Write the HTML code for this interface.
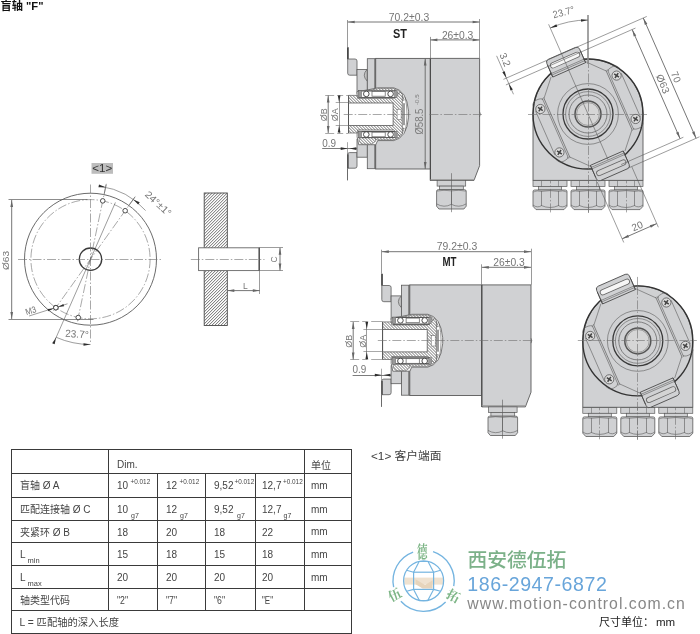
<!DOCTYPE html>
<html lang="zh"><head><meta charset="utf-8"><title>盲轴 F</title>
<style>
html,body{margin:0;padding:0;background:#fff;}
body{width:700px;height:634px;overflow:hidden;font-family:"Liberation Sans","Noto Sans CJK SC",sans-serif;}
svg{display:block;will-change:transform;}
</style></head><body>
<svg width="700" height="634" viewBox="0 0 700 634">
<defs>
<pattern id="hatch" width="2.12" height="2.12" patternUnits="userSpaceOnUse" patternTransform="rotate(-45)"><rect width="2.12" height="2.12" fill="#fff"/><line x1="0" y1="0" x2="2.12" y2="0" stroke="#4a4a4a" stroke-width="1.15"/></pattern>
<pattern id="hatch2" width="2.12" height="2.12" patternUnits="userSpaceOnUse" patternTransform="rotate(45)"><rect width="2.12" height="2.12" fill="#fff"/><line x1="0" y1="0" x2="2.12" y2="0" stroke="#4a4a4a" stroke-width="1.1"/></pattern>
</defs>
<rect x="91.5" y="163" width="21.5" height="10.8" fill="#bdbdbd"/>
<text x="102.30" y="172.40" font-size="11.5" fill="#333" text-anchor="middle" font-weight="normal" font-family='"Liberation Sans", "Noto Sans CJK SC", sans-serif' textLength="20" lengthAdjust="spacingAndGlyphs" >&lt;1&gt;</text>
<circle cx="90.50" cy="259.20" r="66.00" fill="none" stroke="#5a5a5a" stroke-width="0.9" />
<circle cx="90.50" cy="259.20" r="59.60" fill="none" stroke="#6e6e6e" stroke-width="0.6" stroke-dasharray="9 2 1.5 2"/>
<circle cx="90.50" cy="259.20" r="11.20" fill="none" stroke="#3a3a3a" stroke-width="1.3" />
<line x1="18.00" y1="259.50" x2="162.50" y2="259.50" stroke="#6e6e6e" stroke-width="0.6" stroke-dasharray="9 2 1.5 2"/>
<line x1="90.50" y1="184.50" x2="90.50" y2="344.00" stroke="#6e6e6e" stroke-width="0.6" stroke-dasharray="9 2 1.5 2"/>
<line x1="106.11" y1="184.82" x2="77.36" y2="321.84" stroke="#6e6e6e" stroke-width="0.6" stroke-dasharray="9 2 1.5 2"/>
<line x1="134.69" y1="197.37" x2="53.29" y2="311.27" stroke="#6e6e6e" stroke-width="0.6" stroke-dasharray="9 2 1.5 2"/>
<line x1="115.42" y1="202.43" x2="55.53" y2="338.86" stroke="#5a5a5a" stroke-width="0.6" />
<circle cx="102.74" cy="200.87" r="2.30" fill="#fff" stroke="#3a3a3a" stroke-width="0.9" />
<circle cx="125.15" cy="210.71" r="2.30" fill="#fff" stroke="#3a3a3a" stroke-width="0.9" />
<circle cx="78.26" cy="317.53" r="2.30" fill="#fff" stroke="#3a3a3a" stroke-width="0.9" />
<circle cx="55.85" cy="307.69" r="2.30" fill="#fff" stroke="#3a3a3a" stroke-width="0.9" />
<path d="M100.54,186.39 A73.5,73.5 0 0 1 145.59,210.55" fill="none" stroke="#5a5a5a" stroke-width="0.6" />
<polygon points="105.59,187.27 98.47,187.15 99.02,184.51" fill="#2e2e2e"/>
<polygon points="133.23,199.40 139.71,202.37 138.14,204.57" fill="#2e2e2e"/>
<line x1="104.05" y1="194.61" x2="106.31" y2="183.84" stroke="#5a5a5a" stroke-width="0.6" />
<line x1="128.87" y1="205.50" x2="135.27" y2="196.55" stroke="#5a5a5a" stroke-width="0.6" />
<text x="144.20" y="195.20" font-size="10" fill="#767676" text-anchor="start" font-weight="normal" font-family='"Liberation Sans", "Noto Sans CJK SC", sans-serif' transform="rotate(43 144.20 195.20)" textLength="32" lengthAdjust="spacingAndGlyphs" >24°±1°</text>
<path d="M90.50,344.50 A85.3,85.3 0 0 1 56.21,337.31" fill="none" stroke="#5a5a5a" stroke-width="0.6" />
<polygon points="90.50,344.50 83.50,345.85 83.50,343.15" fill="#2e2e2e"/>
<polygon points="56.21,337.31 54.64,344.26 52.16,343.17" fill="#2e2e2e"/>
<text x="65.00" y="336.80" font-size="10.5" fill="#767676" text-anchor="start" font-weight="normal" font-family='"Liberation Sans", "Noto Sans CJK SC", sans-serif' transform="rotate(4 65.00 336.80)" textLength="23.5" lengthAdjust="spacingAndGlyphs" >23.7°</text>
<line x1="8.50" y1="199.50" x2="87.50" y2="199.50" stroke="#5a5a5a" stroke-width="0.7" />
<line x1="8.50" y1="319.50" x2="93.50" y2="319.50" stroke="#5a5a5a" stroke-width="0.7" />
<line x1="11.70" y1="199.90" x2="11.70" y2="319.10" stroke="#666" stroke-width="0.9"/>
<polygon points="11.70,199.90 13.05,206.90 10.35,206.90" fill="#666"/>
<polygon points="11.70,319.10 10.35,312.10 13.05,312.10" fill="#666"/>
<text x="9.00" y="270.00" font-size="9.5" fill="#767676" text-anchor="start" font-weight="normal" font-family='"Liberation Sans", "Noto Sans CJK SC", sans-serif' transform="rotate(-90 9.00 270.00)" textLength="19" lengthAdjust="spacingAndGlyphs" >Ø63</text>
<text x="26.50" y="315.30" font-size="9" fill="#767676" text-anchor="start" font-weight="normal" font-family='"Liberation Sans", "Noto Sans CJK SC", sans-serif' transform="rotate(-17.6 26.50 315.30)" textLength="11" lengthAdjust="spacingAndGlyphs" >M3</text>
<line x1="29.10" y1="316.00" x2="67.50" y2="303.80" stroke="#5a5a5a" stroke-width="0.6" />
<polygon points="53.65,308.39 48.29,311.35 47.57,309.06" fill="#2e2e2e"/>
<polygon points="58.05,306.99 63.40,304.03 64.13,306.32" fill="#2e2e2e"/>
<circle cx="55.85" cy="307.69" r="2.30" fill="#fff" stroke="#3a3a3a" stroke-width="0.9" />
<rect x="204.20" y="193.00" width="23.10" height="132.50" fill="url(#hatch)" stroke="#4a4a4a" stroke-width="0.9" />
<rect x="198.60" y="247.80" width="60.60" height="22.80" fill="#fff" stroke="#666" stroke-width="0.9" />
<line x1="259.20" y1="247.80" x2="259.20" y2="270.60" stroke="#444" stroke-width="1.2" />
<line x1="190.80" y1="259.50" x2="264.50" y2="259.50" stroke="#6e6e6e" stroke-width="0.6" stroke-dasharray="9 2 1.5 2"/>
<line x1="259.20" y1="247.50" x2="283.00" y2="247.50" stroke="#5a5a5a" stroke-width="0.6" />
<line x1="259.20" y1="270.50" x2="283.00" y2="270.50" stroke="#5a5a5a" stroke-width="0.6" />
<line x1="280.00" y1="247.80" x2="280.00" y2="270.60" stroke="#666" stroke-width="0.9"/>
<polygon points="280.00,247.80 281.35,254.80 278.65,254.80" fill="#666"/>
<polygon points="280.00,270.60 278.65,263.60 281.35,263.60" fill="#666"/>
<text x="276.50" y="262.50" font-size="8.5" fill="#767676" text-anchor="start" font-weight="normal" font-family='"Liberation Sans", "Noto Sans CJK SC", sans-serif' transform="rotate(-90 276.50 262.50)" >C</text>
<line x1="259.50" y1="270.60" x2="259.50" y2="294.00" stroke="#5a5a5a" stroke-width="0.6" />
<line x1="227.30" y1="290.60" x2="259.80" y2="290.60" stroke="#666" stroke-width="0.9"/>
<polygon points="227.30,290.60 234.30,289.25 234.30,291.95" fill="#666"/>
<polygon points="259.80,290.60 252.80,291.95 252.80,289.25" fill="#666"/>
<text x="243.00" y="288.50" font-size="8.5" fill="#767676" text-anchor="start" font-weight="normal" font-family='"Liberation Sans", "Noto Sans CJK SC", sans-serif' >L</text>
<line x1="347.50" y1="20.00" x2="347.50" y2="47.20" stroke="#6e6e6e" stroke-width="0.7" />
<line x1="347.50" y1="168.20" x2="347.50" y2="180.40" stroke="#5a5a5a" stroke-width="0.9" />
<line x1="347.90" y1="47.20" x2="347.90" y2="59.20" stroke="#333" stroke-width="1.6" />
<path d="M347.7,59.0 L355.0,59.0 Q357.0,59.0 357.0,61.0 L357.0,75.2 L349.7,75.2 Q347.7,75.2 347.7,73.2 Z" fill="#d0d1d3" stroke="#5a5a5a" stroke-width="0.8" />
<path d="M347.7,154.2 Q347.7,152.6 349.7,152.6 L357.0,152.6 L357.0,166.2 Q357.0,168.2 355.0,168.2 L347.7,168.2 Z" fill="#d0d1d3" stroke="#5a5a5a" stroke-width="0.8" />
<line x1="347.90" y1="154.20" x2="347.90" y2="168.20" stroke="#444" stroke-width="1.4" />
<rect x="357.00" y="69.40" width="10.30" height="24.00" fill="#d0d1d3" stroke="#5a5a5a" stroke-width="0.8" />
<rect x="357.00" y="139.20" width="10.30" height="18.00" fill="#d0d1d3" stroke="#5a5a5a" stroke-width="0.8" />
<path d="M367.3,69.2 Q361.2,75.2 367.3,81.2 Z" fill="#c4c4c4" stroke="#5a5a5a" stroke-width="0.7" />
<rect x="367.30" y="58.70" width="8.40" height="110.00" fill="#d0d1d3" stroke="#5a5a5a" stroke-width="0.8" />
<line x1="374.50" y1="58.70" x2="374.50" y2="168.70" stroke="#5a5a5a" stroke-width="0.6" />
<rect x="375.70" y="58.40" width="54.70" height="110.60" fill="#d0d1d3" stroke="#5a5a5a" stroke-width="0.9" />
<path d="M430.4,58.400000000000006 L479.6,58.400000000000006 L479.6,165.7 L474.0,180.4 L430.4,180.4 Z" fill="#d0d1d3" stroke="#5a5a5a" stroke-width="0.9" />
<line x1="430.40" y1="58.40" x2="430.40" y2="180.40" stroke="#4a4a4a" stroke-width="1.1" />
<line x1="430.40" y1="179.50" x2="474.60" y2="179.50" stroke="#9a9a9a" stroke-width="0.8" />
<path d="M479.6,111.7 Q481.2,114.2 479.6,116.7" fill="#888" stroke="#5a5a5a" stroke-width="0.6" />
<rect x="437.10" y="180.40" width="28.60" height="5.70" fill="#d0d1d3" stroke="#5a5a5a" stroke-width="0.7" />
<rect x="439.50" y="186.10" width="23.80" height="3.60" fill="#d0d1d3" stroke="#5a5a5a" stroke-width="0.7" />
<path d="M438.2,189.70000000000002 L464.59999999999997,189.70000000000002 Q466.2,189.70000000000002 466.2,191.3 L466.2,206.20000000000002 L463.9,209.00000000000003 L438.9,209.00000000000003 L436.59999999999997,206.20000000000002 L436.59999999999997,191.3 Q436.59999999999997,189.70000000000002 438.2,189.70000000000002 Z" fill="#d0d1d3" stroke="#5a5a5a" stroke-width="0.8" />
<path d="M436.59999999999997,203.9 Q444.0,208.3 451.4,204.3 Q458.79999999999995,208.3 466.2,203.9" fill="none" stroke="#5a5a5a" stroke-width="0.6" />
<path d="M436.59999999999997,191.20000000000002 Q444.0,189.50000000000003 451.4,190.9 Q458.79999999999995,189.50000000000003 466.2,191.20000000000002" fill="none" stroke="#5a5a5a" stroke-width="0.5" />
<line x1="451.50" y1="190.70" x2="451.50" y2="204.70" stroke="#5a5a5a" stroke-width="0.6" />
<line x1="451.50" y1="173.20" x2="451.50" y2="212.20" stroke="#5a5a5a" stroke-width="0.6" />
<path d="M357.09999999999997,91.6 L367.7,89.9 L377.7,87.80000000000001 L393.7,87.80000000000001 Q406.7,90.2 408.59999999999997,111.2 L408.59999999999997,117.2 Q406.7,138.2 393.7,140.6 L377.7,140.6 L375.7,144.7 L358.7,144.7 L357.09999999999997,136.8 Z" fill="#fff" stroke="#5a5a5a" stroke-width="0.8" />
<path d="M367.7,90.6 L377.7,88.6 L393.7,88.6 Q401.7,90.2 404.2,100.2 L401.2,100.2 Q399.7,93.2 394.7,91.6 L367.7,91.6 Z" fill="url(#hatch2)" stroke="#5a5a5a" stroke-width="0.6" />
<path d="M367.7,137.8 L377.7,139.8 L393.7,139.8 Q401.7,138.2 404.2,128.2 L401.2,128.2 Q399.7,135.2 394.7,136.8 L367.7,136.8 Z" fill="url(#hatch2)" stroke="#5a5a5a" stroke-width="0.6" />
<path d="M359.2,137.7 L375.7,137.7 L375.7,141.2 L371.7,144.2 L361.7,144.2 L359.2,141.2 Z" fill="url(#hatch2)" stroke="#5a5a5a" stroke-width="0.6" />
<path d="M405.2,97.2 Q407.0,106.2 407.0,114.2 Q407.0,122.2 405.2,131.2" fill="none" stroke="#5a5a5a" stroke-width="0.6" />
<path d="M348.59999999999997,95.4 L357.7,95.4 L357.7,98.4 L393.7,98.4 L400.2,92.2 L402.3,94.2 L402.3,134.2 L400.2,136.2 L393.7,130.0 L357.7,130.0 L357.7,133.0 L348.59999999999997,133.0 Z" fill="url(#hatch2)" stroke="#5a5a5a" stroke-width="0.7" />
<rect x="348.60" y="103.00" width="44.50" height="22.40" fill="#fff" stroke="#5a5a5a" stroke-width="0.8" />
<line x1="348.50" y1="95.40" x2="348.50" y2="133.00" stroke="#555" stroke-width="0.9" />
<line x1="403.50" y1="103.20" x2="403.50" y2="125.20" stroke="#5a5a5a" stroke-width="0.6" />
<line x1="404.50" y1="103.20" x2="404.50" y2="125.20" stroke="#5a5a5a" stroke-width="0.6" />
<rect x="397.10" y="109.20" width="4.00" height="10.30" fill="#fff" stroke="#5a5a5a" stroke-width="0.5" />
<rect x="358.70" y="90.60" width="37.00" height="6.60" fill="#fff" stroke="#5a5a5a" stroke-width="0.5" />
<line x1="358.70" y1="91.00" x2="395.70" y2="91.00" stroke="#555" stroke-width="1.1" />
<line x1="358.70" y1="97.50" x2="395.70" y2="97.50" stroke="#555" stroke-width="0.9" />
<rect x="358.70" y="90.60" width="3.00" height="6.60" fill="#999" stroke="#5a5a5a" stroke-width="0.4" />
<rect x="394.50" y="90.60" width="2.60" height="6.60" fill="#999" stroke="#5a5a5a" stroke-width="0.4" />
<rect x="372.00" y="91.60" width="13.20" height="4.60" fill="#fff" stroke="#5a5a5a" stroke-width="0.7" />
<circle cx="366.30" cy="93.90" r="2.80" fill="#fff" stroke="#3a3a3a" stroke-width="0.9" />
<circle cx="390.60" cy="93.90" r="2.80" fill="#fff" stroke="#3a3a3a" stroke-width="0.9" />
<rect x="358.70" y="131.20" width="37.00" height="6.60" fill="#fff" stroke="#5a5a5a" stroke-width="0.5" />
<line x1="358.70" y1="131.60" x2="395.70" y2="131.60" stroke="#555" stroke-width="1.1" />
<line x1="358.70" y1="137.50" x2="395.70" y2="137.50" stroke="#555" stroke-width="0.9" />
<rect x="358.70" y="131.20" width="3.00" height="6.60" fill="#999" stroke="#5a5a5a" stroke-width="0.4" />
<rect x="394.50" y="131.20" width="2.60" height="6.60" fill="#999" stroke="#5a5a5a" stroke-width="0.4" />
<rect x="372.00" y="132.20" width="13.20" height="4.60" fill="#fff" stroke="#5a5a5a" stroke-width="0.7" />
<circle cx="366.30" cy="134.50" r="2.80" fill="#fff" stroke="#3a3a3a" stroke-width="0.9" />
<circle cx="390.60" cy="134.50" r="2.80" fill="#fff" stroke="#3a3a3a" stroke-width="0.9" />
<line x1="343.70" y1="114.50" x2="411.70" y2="114.50" stroke="#6e6e6e" stroke-width="0.6" stroke-dasharray="9 2 1.5 2"/>
<line x1="429.40" y1="114.50" x2="482.10" y2="114.50" stroke="#6e6e6e" stroke-width="0.6" stroke-dasharray="9 2 1.5 2"/>
<line x1="479.50" y1="19.00" x2="479.50" y2="58.40" stroke="#6e6e6e" stroke-width="0.7" />
<line x1="347.70" y1="22.00" x2="479.60" y2="22.00" stroke="#666" stroke-width="0.9"/>
<polygon points="347.70,22.00 354.70,20.65 354.70,23.35" fill="#666"/>
<polygon points="479.60,22.00 472.60,23.35 472.60,20.65" fill="#666"/>
<text x="409.00" y="20.70" font-size="10" fill="#767676" text-anchor="middle" font-weight="normal" font-family='"Liberation Sans", "Noto Sans CJK SC", sans-serif' textLength="40.4" lengthAdjust="spacingAndGlyphs" >70.2±0.3</text>
<text x="400.00" y="37.90" font-size="13" fill="#222" text-anchor="middle" font-weight="bold" font-family='"Liberation Sans", "Noto Sans CJK SC", sans-serif' textLength="14" lengthAdjust="spacingAndGlyphs" >ST</text>
<line x1="430.50" y1="36.90" x2="430.50" y2="58.40" stroke="#6e6e6e" stroke-width="0.7" />
<line x1="430.40" y1="39.90" x2="479.60" y2="39.90" stroke="#666" stroke-width="0.9"/>
<polygon points="430.40,39.90 437.40,38.55 437.40,41.25" fill="#666"/>
<polygon points="479.60,39.90 472.60,41.25 472.60,38.55" fill="#666"/>
<text x="457.60" y="38.60" font-size="10" fill="#767676" text-anchor="middle" font-weight="normal" font-family='"Liberation Sans", "Noto Sans CJK SC", sans-serif' textLength="31.4" lengthAdjust="spacingAndGlyphs" >26±0.3</text>
<line x1="425.20" y1="58.40" x2="425.20" y2="169.00" stroke="#666" stroke-width="0.9"/>
<polygon points="425.20,58.40 426.55,65.40 423.85,65.40" fill="#666"/>
<polygon points="425.20,169.00 423.85,162.00 426.55,162.00" fill="#666"/>
<text x="423.00" y="134.60" font-size="10" fill="#7c7c7c" text-anchor="start" font-weight="normal" font-family='"Liberation Sans", "Noto Sans CJK SC", sans-serif' transform="rotate(-90 423.00 134.60)" textLength="26.0" lengthAdjust="spacingAndGlyphs" >Ø58.5</text>
<text x="418.90" y="105.00" font-size="6.2" fill="#7c7c7c" text-anchor="start" font-weight="normal" font-family='"Liberation Sans", "Noto Sans CJK SC", sans-serif' transform="rotate(-90 418.90 105.00)" >-0.5</text>
<line x1="325.20" y1="95.50" x2="348.60" y2="95.50" stroke="#6e6e6e" stroke-width="0.6" stroke-dasharray="9 3 6 3 20"/>
<line x1="325.20" y1="133.50" x2="348.60" y2="133.50" stroke="#6e6e6e" stroke-width="0.6" stroke-dasharray="9 3 6 3 20"/>
<line x1="328.20" y1="95.40" x2="328.20" y2="133.00" stroke="#666" stroke-width="0.9"/>
<polygon points="328.20,95.40 329.55,102.40 326.85,102.40" fill="#666"/>
<polygon points="328.20,133.00 326.85,126.00 329.55,126.00" fill="#666"/>
<text x="326.80" y="121.20" font-size="9.6" fill="#767676" text-anchor="start" font-weight="normal" font-family='"Liberation Sans", "Noto Sans CJK SC", sans-serif' transform="rotate(-90 326.80 121.20)" textLength="13" lengthAdjust="spacingAndGlyphs" >ØB</text>
<line x1="335.70" y1="102.50" x2="348.60" y2="102.50" stroke="#6e6e6e" stroke-width="0.6" />
<line x1="335.70" y1="125.50" x2="348.60" y2="125.50" stroke="#6e6e6e" stroke-width="0.6" />
<line x1="339.50" y1="95.20" x2="339.50" y2="133.20" stroke="#5a5a5a" stroke-width="0.6" />
<polygon points="339.10,102.60 337.75,95.60 340.45,95.60" fill="#2e2e2e"/>
<polygon points="339.10,125.40 340.45,132.40 337.75,132.40" fill="#2e2e2e"/>
<text x="338.10" y="121.20" font-size="9.6" fill="#767676" text-anchor="start" font-weight="normal" font-family='"Liberation Sans", "Noto Sans CJK SC", sans-serif' transform="rotate(-90 338.10 121.20)" textLength="13" lengthAdjust="spacingAndGlyphs" >ØA</text>
<line x1="322.20" y1="148.50" x2="356.70" y2="148.50" stroke="#5a5a5a" stroke-width="0.8" />
<polygon points="347.70,148.60 340.70,149.95 340.70,147.25" fill="#2e2e2e"/>
<polygon points="349.40,148.60 356.40,147.25 356.40,149.95" fill="#2e2e2e"/>
<line x1="347.50" y1="142.20" x2="347.50" y2="154.20" stroke="#6e6e6e" stroke-width="0.6" />
<text x="322.20" y="146.70" font-size="10" fill="#767676" text-anchor="start" font-weight="normal" font-family='"Liberation Sans", "Noto Sans CJK SC", sans-serif' textLength="13.8" lengthAdjust="spacingAndGlyphs" >0.9</text>
<rect x="533.00" y="180.40" width="34.00" height="6.00" fill="#d0d1d3" stroke="#5a5a5a" stroke-width="0.7" />
<rect x="538.50" y="186.40" width="23.00" height="3.60" fill="#d0d1d3" stroke="#5a5a5a" stroke-width="0.7" />
<path d="M534.5,190.0 L565.5,190.0 Q567,190.0 567,191.6 L567,206.3 L564,209.6 L536,209.6 L533,206.3 L533,191.6 Q533,190.0 534.5,190.0 Z" fill="#d0d1d3" stroke="#5a5a5a" stroke-width="0.8" />
<line x1="541.50" y1="191.00" x2="541.50" y2="206.00" stroke="#5a5a5a" stroke-width="0.6" />
<line x1="558.50" y1="191.00" x2="558.50" y2="206.00" stroke="#5a5a5a" stroke-width="0.6" />
<path d="M533,205.0 Q537.3,208.4 541.5,205.6 Q550,209.4 558.5,205.6 Q562.7,208.4 567,205.0" fill="none" stroke="#5a5a5a" stroke-width="0.6" />
<path d="M533,192.0 Q537.3,190.2 541.5,191.5 Q550,189.8 558.5,191.5 Q562.7,190.2 567,192.0" fill="none" stroke="#5a5a5a" stroke-width="0.5" />
<line x1="541.50" y1="180.40" x2="541.50" y2="186.40" stroke="#5a5a5a" stroke-width="0.5" />
<line x1="558.50" y1="180.40" x2="558.50" y2="186.40" stroke="#5a5a5a" stroke-width="0.5" />
<line x1="550.50" y1="174.40" x2="550.50" y2="213.40" stroke="#6e6e6e" stroke-width="0.6" stroke-dasharray="9 2 1.5 2"/>
<rect x="571.00" y="180.40" width="34.00" height="6.00" fill="#d0d1d3" stroke="#5a5a5a" stroke-width="0.7" />
<rect x="576.50" y="186.40" width="23.00" height="3.60" fill="#d0d1d3" stroke="#5a5a5a" stroke-width="0.7" />
<path d="M572.5,190.0 L603.5,190.0 Q605,190.0 605,191.6 L605,206.3 L602,209.6 L574,209.6 L571,206.3 L571,191.6 Q571,190.0 572.5,190.0 Z" fill="#d0d1d3" stroke="#5a5a5a" stroke-width="0.8" />
<line x1="579.50" y1="191.00" x2="579.50" y2="206.00" stroke="#5a5a5a" stroke-width="0.6" />
<line x1="596.50" y1="191.00" x2="596.50" y2="206.00" stroke="#5a5a5a" stroke-width="0.6" />
<path d="M571,205.0 Q575.3,208.4 579.5,205.6 Q588,209.4 596.5,205.6 Q600.7,208.4 605,205.0" fill="none" stroke="#5a5a5a" stroke-width="0.6" />
<path d="M571,192.0 Q575.3,190.2 579.5,191.5 Q588,189.8 596.5,191.5 Q600.7,190.2 605,192.0" fill="none" stroke="#5a5a5a" stroke-width="0.5" />
<line x1="579.50" y1="180.40" x2="579.50" y2="186.40" stroke="#5a5a5a" stroke-width="0.5" />
<line x1="596.50" y1="180.40" x2="596.50" y2="186.40" stroke="#5a5a5a" stroke-width="0.5" />
<line x1="588.50" y1="174.40" x2="588.50" y2="213.40" stroke="#6e6e6e" stroke-width="0.6" stroke-dasharray="9 2 1.5 2"/>
<rect x="609.00" y="180.40" width="34.00" height="6.00" fill="#d0d1d3" stroke="#5a5a5a" stroke-width="0.7" />
<rect x="614.50" y="186.40" width="23.00" height="3.60" fill="#d0d1d3" stroke="#5a5a5a" stroke-width="0.7" />
<path d="M610.5,190.0 L641.5,190.0 Q643,190.0 643,191.6 L643,206.3 L640,209.6 L612,209.6 L609,206.3 L609,191.6 Q609,190.0 610.5,190.0 Z" fill="#d0d1d3" stroke="#5a5a5a" stroke-width="0.8" />
<line x1="617.50" y1="191.00" x2="617.50" y2="206.00" stroke="#5a5a5a" stroke-width="0.6" />
<line x1="634.50" y1="191.00" x2="634.50" y2="206.00" stroke="#5a5a5a" stroke-width="0.6" />
<path d="M609,205.0 Q613.3,208.4 617.5,205.6 Q626,209.4 634.5,205.6 Q638.7,208.4 643,205.0" fill="none" stroke="#5a5a5a" stroke-width="0.6" />
<path d="M609,192.0 Q613.3,190.2 617.5,191.5 Q626,189.8 634.5,191.5 Q638.7,190.2 643,192.0" fill="none" stroke="#5a5a5a" stroke-width="0.5" />
<line x1="617.50" y1="180.40" x2="617.50" y2="186.40" stroke="#5a5a5a" stroke-width="0.5" />
<line x1="634.50" y1="180.40" x2="634.50" y2="186.40" stroke="#5a5a5a" stroke-width="0.5" />
<line x1="626.50" y1="174.40" x2="626.50" y2="213.40" stroke="#6e6e6e" stroke-width="0.6" stroke-dasharray="9 2 1.5 2"/>
<path d="M533,114 A55,55 0 0 1 643,114 L643,180.4 L533,180.4 Z" fill="#d0d1d3" stroke="#5a5a5a" stroke-width="0.9" />
<path d="M552.77,77.04 L546.83,63.49 Q545.54,60.56 548.47,59.27 L575.39,47.46 Q578.32,46.17 579.61,49.10 L585.55,62.65 Z" fill="#d0d1d3" stroke="#4a4a4a" stroke-width="0.9" />
<path d="M590.45,165.35 L596.39,178.90 Q597.68,181.83 600.61,180.54 L627.53,168.73 Q630.46,167.44 629.17,164.51 L623.23,150.96 Z" fill="#d0d1d3" stroke="#4a4a4a" stroke-width="0.9" />
<circle cx="588.00" cy="114.00" r="55.00" fill="none" stroke="#333" stroke-width="1.4" />
<polygon points="552.83,75.93 548.41,65.85 580.27,51.87 584.69,61.94" fill="#d0d1d3"/>
<line x1="552.77" y1="77.04" x2="547.55" y2="65.14" stroke="#4a4a4a" stroke-width="0.9" />
<line x1="585.55" y1="62.65" x2="580.33" y2="50.75" stroke="#4a4a4a" stroke-width="0.9" />
<line x1="551.89" y1="75.03" x2="584.67" y2="60.64" stroke="#5a5a5a" stroke-width="0.6" />
<line x1="551.25" y1="73.56" x2="584.03" y2="59.17" stroke="#5a5a5a" stroke-width="0.6" />
<line x1="553.00" y1="65.37" x2="577.17" y2="54.76" stroke="#666" stroke-width="6.0" stroke-linecap="round"/>
<line x1="553.00" y1="65.37" x2="577.17" y2="54.76" stroke="#f6f6f6" stroke-width="4.4" stroke-linecap="round"/>
<polygon points="591.31,166.06 595.73,176.13 627.59,162.15 623.17,152.07" fill="#d0d1d3"/>
<line x1="590.45" y1="165.35" x2="595.67" y2="177.25" stroke="#4a4a4a" stroke-width="0.9" />
<line x1="623.23" y1="150.96" x2="628.45" y2="162.86" stroke="#4a4a4a" stroke-width="0.9" />
<line x1="591.33" y1="167.36" x2="624.11" y2="152.97" stroke="#5a5a5a" stroke-width="0.6" />
<line x1="591.97" y1="168.83" x2="624.75" y2="154.44" stroke="#5a5a5a" stroke-width="0.6" />
<line x1="599.19" y1="173.08" x2="623.37" y2="162.47" stroke="#666" stroke-width="6.0" stroke-linecap="round"/>
<line x1="599.19" y1="173.08" x2="623.37" y2="162.47" stroke="#d4d4d4" stroke-width="4.4" stroke-linecap="round"/>
<line x1="585.69" y1="61.72" x2="606.27" y2="71.03" stroke="#5a5a5a" stroke-width="0.6" />
<line x1="631.99" y1="129.63" x2="624.92" y2="151.09" stroke="#5a5a5a" stroke-width="0.6" />
<line x1="590.31" y1="166.28" x2="569.73" y2="156.97" stroke="#5a5a5a" stroke-width="0.6" />
<line x1="544.01" y1="98.37" x2="551.08" y2="76.91" stroke="#5a5a5a" stroke-width="0.6" />
<line x1="605.87" y1="70.12" x2="632.40" y2="130.55" stroke="#5a5a5a" stroke-width="0.7" />
<line x1="607.33" y1="69.47" x2="633.86" y2="129.91" stroke="#5a5a5a" stroke-width="0.6" />
<path d="M608.14,71.31 Q607.50,68.86 612.08,66.85 Q617.11,64.63 619.65,68.43" fill="none" stroke="#5a5a5a" stroke-width="0.6" />
<path d="M633.06,128.08 Q634.43,130.20 639.01,128.19 Q644.04,125.98 642.97,121.54" fill="none" stroke="#5a5a5a" stroke-width="0.6" />
<line x1="621.21" y1="73.21" x2="640.50" y2="117.16" stroke="#5a5a5a" stroke-width="0.6" />
<circle cx="616.57" cy="75.58" r="4.60" fill="#dcdcdc" stroke="#444" stroke-width="0.7" />
<line x1="614.17" y1="73.98" x2="618.97" y2="77.18" stroke="#444" stroke-width="1.5" />
<line x1="614.97" y1="77.98" x2="618.17" y2="73.18" stroke="#444" stroke-width="1.5" />
<circle cx="635.62" cy="118.98" r="4.60" fill="#dcdcdc" stroke="#444" stroke-width="0.7" />
<line x1="633.22" y1="117.38" x2="638.02" y2="120.58" stroke="#444" stroke-width="1.5" />
<line x1="634.02" y1="121.38" x2="637.22" y2="116.58" stroke="#444" stroke-width="1.5" />
<line x1="543.60" y1="97.45" x2="570.13" y2="157.88" stroke="#5a5a5a" stroke-width="0.7" />
<line x1="542.14" y1="98.09" x2="568.67" y2="158.53" stroke="#5a5a5a" stroke-width="0.6" />
<path d="M542.94,99.92 Q541.57,97.80 536.99,99.81 Q531.96,102.02 533.03,106.46" fill="none" stroke="#5a5a5a" stroke-width="0.6" />
<path d="M567.86,156.69 Q568.50,159.14 563.92,161.15 Q558.89,163.37 556.35,159.57" fill="none" stroke="#5a5a5a" stroke-width="0.6" />
<line x1="535.50" y1="110.84" x2="554.79" y2="154.79" stroke="#5a5a5a" stroke-width="0.6" />
<circle cx="540.38" cy="109.02" r="4.60" fill="#dcdcdc" stroke="#444" stroke-width="0.7" />
<line x1="537.98" y1="107.42" x2="542.78" y2="110.62" stroke="#444" stroke-width="1.5" />
<line x1="538.78" y1="111.42" x2="541.98" y2="106.62" stroke="#444" stroke-width="1.5" />
<circle cx="559.43" cy="152.42" r="4.60" fill="#dcdcdc" stroke="#444" stroke-width="0.7" />
<line x1="557.03" y1="150.82" x2="561.83" y2="154.02" stroke="#444" stroke-width="1.5" />
<line x1="557.83" y1="154.82" x2="561.03" y2="150.02" stroke="#444" stroke-width="1.5" />
<circle cx="588.00" cy="114.00" r="30.40" fill="none" stroke="#5a5a5a" stroke-width="0.6" />
<circle cx="588.00" cy="114.00" r="25.00" fill="none" stroke="#3a3a3a" stroke-width="1.3" />
<circle cx="588.00" cy="114.00" r="22.40" fill="none" stroke="#5a5a5a" stroke-width="0.6" />
<circle cx="588.00" cy="114.00" r="19.00" fill="none" stroke="#5a5a5a" stroke-width="0.7" />
<circle cx="588.00" cy="114.00" r="13.00" fill="#d6d6d6" stroke="#555" stroke-width="1.5" />
<circle cx="588.00" cy="114.00" r="11.40" fill="none" stroke="#777" stroke-width="0.6" />
<line x1="528.00" y1="114.50" x2="647.00" y2="114.50" stroke="#6e6e6e" stroke-width="0.6" stroke-dasharray="9 2 1.5 2"/>
<line x1="588.50" y1="59.00" x2="588.50" y2="214.00" stroke="#6e6e6e" stroke-width="0.6" stroke-dasharray="9 2 1.5 2"/>
<line x1="588" y1="15" x2="588" y2="64" stroke="#8c8c8c" stroke-width="1.6"/>
<line x1="548.61" y1="24.27" x2="608.10" y2="159.78" stroke="#5a5a5a" stroke-width="0.6" />
<path d="M550.22,27.93 A94,94 0 0 1 588.00,20.00" fill="none" stroke="#5a5a5a" stroke-width="0.6" />
<polygon points="550.22,27.93 556.35,24.30 557.26,26.84" fill="#2e2e2e"/>
<polygon points="588.00,20.00 581.11,21.84 580.92,19.14" fill="#2e2e2e"/>
<text x="564.50" y="15.50" font-size="10" fill="#767676" text-anchor="middle" font-weight="normal" font-family='"Liberation Sans", "Noto Sans CJK SC", sans-serif' transform="rotate(-15 564.50 15.50)" textLength="22" lengthAdjust="spacingAndGlyphs" >23.7°</text>
<line x1="503.45" y1="79.36" x2="646.75" y2="16.46" stroke="#5a5a5a" stroke-width="0.6" />
<line x1="505.90" y1="84.95" x2="635.47" y2="28.07" stroke="#5a5a5a" stroke-width="0.6" />
<line x1="627.23" y1="168.53" x2="699.56" y2="136.78" stroke="#5a5a5a" stroke-width="0.6" />
<line x1="621.11" y1="164.55" x2="683.38" y2="137.22" stroke="#5a5a5a" stroke-width="0.6" />
<line x1="632.17" y1="29.52" x2="680.08" y2="138.67" stroke="#666" stroke-width="0.9"/>
<polygon points="632.17,29.52 636.22,35.39 633.75,36.47" fill="#666"/>
<polygon points="680.08,138.67 676.03,132.80 678.50,131.72" fill="#666"/>
<line x1="643.27" y1="17.99" x2="696.09" y2="138.31" stroke="#666" stroke-width="0.9"/>
<polygon points="643.27,17.99 647.32,23.85 644.85,24.94" fill="#666"/>
<polygon points="696.09,138.31 692.04,132.44 694.51,131.35" fill="#666"/>
<text x="655.67" y="76.10" font-size="10" fill="#767676" text-anchor="start" font-weight="normal" font-family='"Liberation Sans", "Noto Sans CJK SC", sans-serif' transform="rotate(66.3 655.67 76.10)" textLength="20" lengthAdjust="spacingAndGlyphs" >Ø63</text>
<text x="670.63" y="73.36" font-size="10" fill="#767676" text-anchor="start" font-weight="normal" font-family='"Liberation Sans", "Noto Sans CJK SC", sans-serif' transform="rotate(66.3 670.63 73.36)" textLength="11" lengthAdjust="spacingAndGlyphs" >70</text>
<line x1="496.61" y1="55.83" x2="513.49" y2="94.29" stroke="#5a5a5a" stroke-width="0.6" />
<polygon points="506.38,78.08 502.33,72.21 504.80,71.13" fill="#2e2e2e"/>
<polygon points="508.83,83.66 512.88,89.53 510.41,90.62" fill="#2e2e2e"/>
<text x="499.17" y="54.70" font-size="10" fill="#767676" text-anchor="start" font-weight="normal" font-family='"Liberation Sans", "Noto Sans CJK SC", sans-serif' transform="rotate(66.3 499.17 54.70)" textLength="14" lengthAdjust="spacingAndGlyphs" >3.2</text>
<line x1="597.22" y1="182.03" x2="623.75" y2="242.46" stroke="#5a5a5a" stroke-width="0.6" />
<line x1="631.83" y1="166.84" x2="658.36" y2="227.27" stroke="#5a5a5a" stroke-width="0.6" />
<line x1="622.14" y1="238.80" x2="656.76" y2="223.61" stroke="#666" stroke-width="0.9"/>
<polygon points="622.14,238.80 628.01,234.75 629.10,237.22" fill="#666"/>
<polygon points="656.76,223.61 650.89,227.66 649.80,225.19" fill="#666"/>
<text x="633.61" y="231.58" font-size="10" fill="#767676" text-anchor="start" font-weight="normal" font-family='"Liberation Sans", "Noto Sans CJK SC", sans-serif' transform="rotate(-23.7 633.61 231.58)" textLength="11" lengthAdjust="spacingAndGlyphs" >20</text>
<rect x="582.80" y="407.30" width="34.00" height="6.00" fill="#d0d1d3" stroke="#5a5a5a" stroke-width="0.7" />
<rect x="588.30" y="413.30" width="23.00" height="3.60" fill="#d0d1d3" stroke="#5a5a5a" stroke-width="0.7" />
<path d="M584.3,416.9 L615.3,416.9 Q616.8,416.9 616.8,418.5 L616.8,433.2 L613.8,436.5 L585.8,436.5 L582.8,433.2 L582.8,418.5 Q582.8,416.9 584.3,416.9 Z" fill="#d0d1d3" stroke="#5a5a5a" stroke-width="0.8" />
<line x1="591.50" y1="417.90" x2="591.50" y2="432.90" stroke="#5a5a5a" stroke-width="0.6" />
<line x1="608.50" y1="417.90" x2="608.50" y2="432.90" stroke="#5a5a5a" stroke-width="0.6" />
<path d="M582.8,431.9 Q587.0999999999999,435.29999999999995 591.3,432.5 Q599.8,436.29999999999995 608.3,432.5 Q612.5,435.29999999999995 616.8,431.9" fill="none" stroke="#5a5a5a" stroke-width="0.6" />
<path d="M582.8,418.9 Q587.0999999999999,417.09999999999997 591.3,418.4 Q599.8,416.7 608.3,418.4 Q612.5,417.09999999999997 616.8,418.9" fill="none" stroke="#5a5a5a" stroke-width="0.5" />
<line x1="591.50" y1="407.30" x2="591.50" y2="413.30" stroke="#5a5a5a" stroke-width="0.5" />
<line x1="608.50" y1="407.30" x2="608.50" y2="413.30" stroke="#5a5a5a" stroke-width="0.5" />
<line x1="599.50" y1="401.30" x2="599.50" y2="440.30" stroke="#6e6e6e" stroke-width="0.6" stroke-dasharray="9 2 1.5 2"/>
<rect x="620.80" y="407.30" width="34.00" height="6.00" fill="#d0d1d3" stroke="#5a5a5a" stroke-width="0.7" />
<rect x="626.30" y="413.30" width="23.00" height="3.60" fill="#d0d1d3" stroke="#5a5a5a" stroke-width="0.7" />
<path d="M622.3,416.9 L653.3,416.9 Q654.8,416.9 654.8,418.5 L654.8,433.2 L651.8,436.5 L623.8,436.5 L620.8,433.2 L620.8,418.5 Q620.8,416.9 622.3,416.9 Z" fill="#d0d1d3" stroke="#5a5a5a" stroke-width="0.8" />
<line x1="629.50" y1="417.90" x2="629.50" y2="432.90" stroke="#5a5a5a" stroke-width="0.6" />
<line x1="646.50" y1="417.90" x2="646.50" y2="432.90" stroke="#5a5a5a" stroke-width="0.6" />
<path d="M620.8,431.9 Q625.0999999999999,435.29999999999995 629.3,432.5 Q637.8,436.29999999999995 646.3,432.5 Q650.5,435.29999999999995 654.8,431.9" fill="none" stroke="#5a5a5a" stroke-width="0.6" />
<path d="M620.8,418.9 Q625.0999999999999,417.09999999999997 629.3,418.4 Q637.8,416.7 646.3,418.4 Q650.5,417.09999999999997 654.8,418.9" fill="none" stroke="#5a5a5a" stroke-width="0.5" />
<line x1="629.50" y1="407.30" x2="629.50" y2="413.30" stroke="#5a5a5a" stroke-width="0.5" />
<line x1="646.50" y1="407.30" x2="646.50" y2="413.30" stroke="#5a5a5a" stroke-width="0.5" />
<line x1="637.50" y1="401.30" x2="637.50" y2="440.30" stroke="#6e6e6e" stroke-width="0.6" stroke-dasharray="9 2 1.5 2"/>
<rect x="658.80" y="407.30" width="34.00" height="6.00" fill="#d0d1d3" stroke="#5a5a5a" stroke-width="0.7" />
<rect x="664.30" y="413.30" width="23.00" height="3.60" fill="#d0d1d3" stroke="#5a5a5a" stroke-width="0.7" />
<path d="M660.3,416.9 L691.3,416.9 Q692.8,416.9 692.8,418.5 L692.8,433.2 L689.8,436.5 L661.8,436.5 L658.8,433.2 L658.8,418.5 Q658.8,416.9 660.3,416.9 Z" fill="#d0d1d3" stroke="#5a5a5a" stroke-width="0.8" />
<line x1="667.50" y1="417.90" x2="667.50" y2="432.90" stroke="#5a5a5a" stroke-width="0.6" />
<line x1="684.50" y1="417.90" x2="684.50" y2="432.90" stroke="#5a5a5a" stroke-width="0.6" />
<path d="M658.8,431.9 Q663.0999999999999,435.29999999999995 667.3,432.5 Q675.8,436.29999999999995 684.3,432.5 Q688.5,435.29999999999995 692.8,431.9" fill="none" stroke="#5a5a5a" stroke-width="0.6" />
<path d="M658.8,418.9 Q663.0999999999999,417.09999999999997 667.3,418.4 Q675.8,416.7 684.3,418.4 Q688.5,417.09999999999997 692.8,418.9" fill="none" stroke="#5a5a5a" stroke-width="0.5" />
<line x1="667.50" y1="407.30" x2="667.50" y2="413.30" stroke="#5a5a5a" stroke-width="0.5" />
<line x1="684.50" y1="407.30" x2="684.50" y2="413.30" stroke="#5a5a5a" stroke-width="0.5" />
<line x1="675.50" y1="401.30" x2="675.50" y2="440.30" stroke="#6e6e6e" stroke-width="0.6" stroke-dasharray="9 2 1.5 2"/>
<path d="M582.8,340.9 A55,55 0 0 1 692.8,340.9 L692.8,407.29999999999995 L582.8,407.29999999999995 Z" fill="#d0d1d3" stroke="#5a5a5a" stroke-width="0.9" />
<path d="M602.57,303.94 L596.63,290.39 Q595.34,287.46 598.27,286.17 L625.19,274.36 Q628.12,273.07 629.41,276.00 L635.35,289.55 Z" fill="#d0d1d3" stroke="#4a4a4a" stroke-width="0.9" />
<path d="M640.25,392.25 L646.19,405.80 Q647.48,408.73 650.41,407.44 L677.33,395.63 Q680.26,394.34 678.97,391.41 L673.03,377.86 Z" fill="#d0d1d3" stroke="#4a4a4a" stroke-width="0.9" />
<circle cx="637.80" cy="340.90" r="55.00" fill="none" stroke="#333" stroke-width="1.4" />
<polygon points="602.63,302.83 598.21,292.75 630.07,278.77 634.49,288.84" fill="#d0d1d3"/>
<line x1="602.57" y1="303.94" x2="597.35" y2="292.04" stroke="#4a4a4a" stroke-width="0.9" />
<line x1="635.35" y1="289.55" x2="630.13" y2="277.65" stroke="#4a4a4a" stroke-width="0.9" />
<line x1="601.69" y1="301.93" x2="634.47" y2="287.54" stroke="#5a5a5a" stroke-width="0.6" />
<line x1="601.05" y1="300.46" x2="633.83" y2="286.07" stroke="#5a5a5a" stroke-width="0.6" />
<line x1="602.80" y1="292.27" x2="626.97" y2="281.66" stroke="#666" stroke-width="6.0" stroke-linecap="round"/>
<line x1="602.80" y1="292.27" x2="626.97" y2="281.66" stroke="#f6f6f6" stroke-width="4.4" stroke-linecap="round"/>
<polygon points="641.11,392.96 645.53,403.03 677.39,389.05 672.97,378.97" fill="#d0d1d3"/>
<line x1="640.25" y1="392.25" x2="645.47" y2="404.15" stroke="#4a4a4a" stroke-width="0.9" />
<line x1="673.03" y1="377.86" x2="678.25" y2="389.76" stroke="#4a4a4a" stroke-width="0.9" />
<line x1="641.13" y1="394.26" x2="673.91" y2="379.87" stroke="#5a5a5a" stroke-width="0.6" />
<line x1="641.77" y1="395.73" x2="674.55" y2="381.34" stroke="#5a5a5a" stroke-width="0.6" />
<line x1="648.99" y1="399.98" x2="673.17" y2="389.37" stroke="#666" stroke-width="6.0" stroke-linecap="round"/>
<line x1="648.99" y1="399.98" x2="673.17" y2="389.37" stroke="#d4d4d4" stroke-width="4.4" stroke-linecap="round"/>
<line x1="635.49" y1="288.62" x2="656.07" y2="297.93" stroke="#5a5a5a" stroke-width="0.6" />
<line x1="681.79" y1="356.53" x2="674.72" y2="377.99" stroke="#5a5a5a" stroke-width="0.6" />
<line x1="640.11" y1="393.18" x2="619.53" y2="383.87" stroke="#5a5a5a" stroke-width="0.6" />
<line x1="593.81" y1="325.27" x2="600.88" y2="303.81" stroke="#5a5a5a" stroke-width="0.6" />
<line x1="655.67" y1="297.02" x2="682.20" y2="357.45" stroke="#5a5a5a" stroke-width="0.7" />
<line x1="657.13" y1="296.37" x2="683.66" y2="356.81" stroke="#5a5a5a" stroke-width="0.6" />
<path d="M657.94,298.21 Q657.30,295.76 661.88,293.75 Q666.91,291.53 669.45,295.33" fill="none" stroke="#5a5a5a" stroke-width="0.6" />
<path d="M682.86,354.98 Q684.23,357.10 688.81,355.09 Q693.84,352.88 692.77,348.44" fill="none" stroke="#5a5a5a" stroke-width="0.6" />
<line x1="671.01" y1="300.11" x2="690.30" y2="344.06" stroke="#5a5a5a" stroke-width="0.6" />
<circle cx="666.37" cy="302.48" r="4.60" fill="#dcdcdc" stroke="#444" stroke-width="0.7" />
<line x1="663.97" y1="300.88" x2="668.77" y2="304.08" stroke="#444" stroke-width="1.5" />
<line x1="664.77" y1="304.88" x2="667.97" y2="300.08" stroke="#444" stroke-width="1.5" />
<circle cx="685.42" cy="345.88" r="4.60" fill="#dcdcdc" stroke="#444" stroke-width="0.7" />
<line x1="683.02" y1="344.28" x2="687.82" y2="347.48" stroke="#444" stroke-width="1.5" />
<line x1="683.82" y1="348.28" x2="687.02" y2="343.48" stroke="#444" stroke-width="1.5" />
<line x1="593.40" y1="324.35" x2="619.93" y2="384.78" stroke="#5a5a5a" stroke-width="0.7" />
<line x1="591.94" y1="324.99" x2="618.47" y2="385.43" stroke="#5a5a5a" stroke-width="0.6" />
<path d="M592.74,326.82 Q591.37,324.70 586.79,326.71 Q581.76,328.92 582.83,333.36" fill="none" stroke="#5a5a5a" stroke-width="0.6" />
<path d="M617.66,383.59 Q618.30,386.04 613.72,388.05 Q608.69,390.27 606.15,386.47" fill="none" stroke="#5a5a5a" stroke-width="0.6" />
<line x1="585.30" y1="337.74" x2="604.59" y2="381.69" stroke="#5a5a5a" stroke-width="0.6" />
<circle cx="590.18" cy="335.92" r="4.60" fill="#dcdcdc" stroke="#444" stroke-width="0.7" />
<line x1="587.78" y1="334.32" x2="592.58" y2="337.52" stroke="#444" stroke-width="1.5" />
<line x1="588.58" y1="338.32" x2="591.78" y2="333.52" stroke="#444" stroke-width="1.5" />
<circle cx="609.23" cy="379.32" r="4.60" fill="#dcdcdc" stroke="#444" stroke-width="0.7" />
<line x1="606.83" y1="377.72" x2="611.63" y2="380.92" stroke="#444" stroke-width="1.5" />
<line x1="607.63" y1="381.72" x2="610.83" y2="376.92" stroke="#444" stroke-width="1.5" />
<circle cx="637.80" cy="340.90" r="30.40" fill="none" stroke="#5a5a5a" stroke-width="0.6" />
<circle cx="637.80" cy="340.90" r="25.00" fill="none" stroke="#3a3a3a" stroke-width="1.3" />
<circle cx="637.80" cy="340.90" r="22.40" fill="none" stroke="#5a5a5a" stroke-width="0.6" />
<circle cx="637.80" cy="340.90" r="19.00" fill="none" stroke="#5a5a5a" stroke-width="0.7" />
<circle cx="637.80" cy="340.90" r="13.00" fill="#d6d6d6" stroke="#555" stroke-width="1.5" />
<circle cx="637.80" cy="340.90" r="11.40" fill="none" stroke="#777" stroke-width="0.6" />
<line x1="577.80" y1="340.50" x2="696.80" y2="340.50" stroke="#6e6e6e" stroke-width="0.6" stroke-dasharray="9 2 1.5 2"/>
<line x1="637.50" y1="285.90" x2="637.50" y2="440.90" stroke="#6e6e6e" stroke-width="0.6" stroke-dasharray="9 2 1.5 2"/>
<line x1="637.50" y1="276.90" x2="637.50" y2="285.90" stroke="#6e6e6e" stroke-width="0.6" stroke-dasharray="9 2 1.5 2"/>
<line x1="381.50" y1="249.70" x2="381.50" y2="273.70" stroke="#6e6e6e" stroke-width="0.7" />
<line x1="381.50" y1="394.70" x2="381.50" y2="406.90" stroke="#5a5a5a" stroke-width="0.9" />
<line x1="382.00" y1="273.70" x2="382.00" y2="285.70" stroke="#333" stroke-width="1.6" />
<path d="M381.8,285.5 L389.1,285.5 Q391.1,285.5 391.1,287.5 L391.1,301.7 L383.8,301.7 Q381.8,301.7 381.8,299.7 Z" fill="#d0d1d3" stroke="#5a5a5a" stroke-width="0.8" />
<path d="M381.8,380.7 Q381.8,379.09999999999997 383.8,379.09999999999997 L391.1,379.09999999999997 L391.1,392.7 Q391.1,394.7 389.1,394.7 L381.8,394.7 Z" fill="#d0d1d3" stroke="#5a5a5a" stroke-width="0.8" />
<line x1="382.00" y1="380.70" x2="382.00" y2="394.70" stroke="#444" stroke-width="1.4" />
<rect x="391.10" y="295.90" width="10.30" height="24.00" fill="#d0d1d3" stroke="#5a5a5a" stroke-width="0.8" />
<rect x="391.10" y="365.70" width="10.30" height="18.00" fill="#d0d1d3" stroke="#5a5a5a" stroke-width="0.8" />
<path d="M401.40000000000003,295.7 Q395.3,301.7 401.40000000000003,307.7 Z" fill="#c4c4c4" stroke="#5a5a5a" stroke-width="0.7" />
<rect x="401.40" y="285.20" width="8.40" height="110.00" fill="#d0d1d3" stroke="#5a5a5a" stroke-width="0.8" />
<line x1="408.50" y1="285.20" x2="408.50" y2="395.20" stroke="#5a5a5a" stroke-width="0.6" />
<rect x="409.80" y="284.90" width="72.00" height="110.60" fill="#d0d1d3" stroke="#5a5a5a" stroke-width="0.9" />
<path d="M481.8,284.9 L531.0,284.9 L531.0,392.2 L525.4,406.9 L481.8,406.9 Z" fill="#d0d1d3" stroke="#5a5a5a" stroke-width="0.9" />
<line x1="481.80" y1="284.90" x2="481.80" y2="406.90" stroke="#4a4a4a" stroke-width="1.1" />
<line x1="481.80" y1="405.50" x2="526.00" y2="405.50" stroke="#9a9a9a" stroke-width="0.8" />
<path d="M531.0,338.2 Q532.6,340.7 531.0,343.2" fill="#888" stroke="#5a5a5a" stroke-width="0.6" />
<rect x="488.50" y="406.90" width="28.60" height="5.70" fill="#d0d1d3" stroke="#5a5a5a" stroke-width="0.7" />
<rect x="490.90" y="412.60" width="23.80" height="3.60" fill="#d0d1d3" stroke="#5a5a5a" stroke-width="0.7" />
<path d="M489.6,416.2 L516.0,416.2 Q517.6,416.2 517.6,417.8 L517.6,432.7 L515.3,435.5 L490.3,435.5 L488.0,432.7 L488.0,417.8 Q488.0,416.2 489.6,416.2 Z" fill="#d0d1d3" stroke="#5a5a5a" stroke-width="0.8" />
<path d="M488.0,430.4 Q495.40000000000003,434.8 502.8,430.8 Q510.2,434.8 517.6,430.4" fill="none" stroke="#5a5a5a" stroke-width="0.6" />
<path d="M488.0,417.7 Q495.40000000000003,416.0 502.8,417.4 Q510.2,416.0 517.6,417.7" fill="none" stroke="#5a5a5a" stroke-width="0.5" />
<line x1="502.50" y1="417.20" x2="502.50" y2="431.20" stroke="#5a5a5a" stroke-width="0.6" />
<line x1="502.50" y1="399.70" x2="502.50" y2="438.70" stroke="#5a5a5a" stroke-width="0.6" />
<path d="M391.2,318.09999999999997 L401.8,316.4 L411.8,314.3 L427.8,314.3 Q440.8,316.7 442.7,337.7 L442.7,343.7 Q440.8,364.7 427.8,367.09999999999997 L411.8,367.09999999999997 L409.8,371.2 L392.8,371.2 L391.2,363.3 Z" fill="#fff" stroke="#5a5a5a" stroke-width="0.8" />
<path d="M401.8,317.09999999999997 L411.8,315.09999999999997 L427.8,315.09999999999997 Q435.8,316.7 438.3,326.7 L435.3,326.7 Q433.8,319.7 428.8,318.09999999999997 L401.8,318.09999999999997 Z" fill="url(#hatch2)" stroke="#5a5a5a" stroke-width="0.6" />
<path d="M401.8,364.3 L411.8,366.3 L427.8,366.3 Q435.8,364.7 438.3,354.7 L435.3,354.7 Q433.8,361.7 428.8,363.3 L401.8,363.3 Z" fill="url(#hatch2)" stroke="#5a5a5a" stroke-width="0.6" />
<path d="M393.3,364.2 L409.8,364.2 L409.8,367.7 L405.8,370.7 L395.8,370.7 L393.3,367.7 Z" fill="url(#hatch2)" stroke="#5a5a5a" stroke-width="0.6" />
<path d="M439.3,323.7 Q441.1,332.7 441.1,340.7 Q441.1,348.7 439.3,357.7" fill="none" stroke="#5a5a5a" stroke-width="0.6" />
<path d="M382.7,321.9 L391.8,321.9 L391.8,324.9 L427.8,324.9 L434.3,318.7 L436.40000000000003,320.7 L436.40000000000003,360.7 L434.3,362.7 L427.8,356.5 L391.8,356.5 L391.8,359.5 L382.7,359.5 Z" fill="url(#hatch2)" stroke="#5a5a5a" stroke-width="0.7" />
<rect x="382.70" y="329.50" width="44.50" height="22.40" fill="#fff" stroke="#5a5a5a" stroke-width="0.8" />
<line x1="382.50" y1="321.90" x2="382.50" y2="359.50" stroke="#555" stroke-width="0.9" />
<line x1="437.50" y1="329.70" x2="437.50" y2="351.70" stroke="#5a5a5a" stroke-width="0.6" />
<line x1="438.50" y1="329.70" x2="438.50" y2="351.70" stroke="#5a5a5a" stroke-width="0.6" />
<rect x="431.20" y="335.70" width="4.00" height="10.30" fill="#fff" stroke="#5a5a5a" stroke-width="0.5" />
<rect x="392.80" y="317.10" width="37.00" height="6.60" fill="#fff" stroke="#5a5a5a" stroke-width="0.5" />
<line x1="392.80" y1="317.50" x2="429.80" y2="317.50" stroke="#555" stroke-width="1.1" />
<line x1="392.80" y1="324.50" x2="429.80" y2="324.50" stroke="#555" stroke-width="0.9" />
<rect x="392.80" y="317.10" width="3.00" height="6.60" fill="#999" stroke="#5a5a5a" stroke-width="0.4" />
<rect x="428.60" y="317.10" width="2.60" height="6.60" fill="#999" stroke="#5a5a5a" stroke-width="0.4" />
<rect x="406.10" y="318.10" width="13.20" height="4.60" fill="#fff" stroke="#5a5a5a" stroke-width="0.7" />
<circle cx="400.40" cy="320.40" r="2.80" fill="#fff" stroke="#3a3a3a" stroke-width="0.9" />
<circle cx="424.70" cy="320.40" r="2.80" fill="#fff" stroke="#3a3a3a" stroke-width="0.9" />
<rect x="392.80" y="357.70" width="37.00" height="6.60" fill="#fff" stroke="#5a5a5a" stroke-width="0.5" />
<line x1="392.80" y1="358.10" x2="429.80" y2="358.10" stroke="#555" stroke-width="1.1" />
<line x1="392.80" y1="363.50" x2="429.80" y2="363.50" stroke="#555" stroke-width="0.9" />
<rect x="392.80" y="357.70" width="3.00" height="6.60" fill="#999" stroke="#5a5a5a" stroke-width="0.4" />
<rect x="428.60" y="357.70" width="2.60" height="6.60" fill="#999" stroke="#5a5a5a" stroke-width="0.4" />
<rect x="406.10" y="358.70" width="13.20" height="4.60" fill="#fff" stroke="#5a5a5a" stroke-width="0.7" />
<circle cx="400.40" cy="361.00" r="2.80" fill="#fff" stroke="#3a3a3a" stroke-width="0.9" />
<circle cx="424.70" cy="361.00" r="2.80" fill="#fff" stroke="#3a3a3a" stroke-width="0.9" />
<line x1="377.80" y1="340.50" x2="533.50" y2="340.50" stroke="#6e6e6e" stroke-width="0.6" stroke-dasharray="9 2 1.5 2"/>
<line x1="531.50" y1="248.70" x2="531.50" y2="284.90" stroke="#6e6e6e" stroke-width="0.7" />
<line x1="381.80" y1="251.70" x2="531.00" y2="251.70" stroke="#666" stroke-width="0.9"/>
<polygon points="381.80,251.70 388.80,250.35 388.80,253.05" fill="#666"/>
<polygon points="531.00,251.70 524.00,253.05 524.00,250.35" fill="#666"/>
<text x="457.00" y="250.40" font-size="10" fill="#767676" text-anchor="middle" font-weight="normal" font-family='"Liberation Sans", "Noto Sans CJK SC", sans-serif' textLength="40.4" lengthAdjust="spacingAndGlyphs" >79.2±0.3</text>
<text x="449.50" y="265.70" font-size="13" fill="#222" text-anchor="middle" font-weight="bold" font-family='"Liberation Sans", "Noto Sans CJK SC", sans-serif' textLength="14" lengthAdjust="spacingAndGlyphs" >MT</text>
<line x1="481.50" y1="264.30" x2="481.50" y2="284.90" stroke="#6e6e6e" stroke-width="0.7" />
<line x1="481.80" y1="267.30" x2="531.00" y2="267.30" stroke="#666" stroke-width="0.9"/>
<polygon points="481.80,267.30 488.80,265.95 488.80,268.65" fill="#666"/>
<polygon points="531.00,267.30 524.00,268.65 524.00,265.95" fill="#666"/>
<text x="509.00" y="266.00" font-size="10" fill="#767676" text-anchor="middle" font-weight="normal" font-family='"Liberation Sans", "Noto Sans CJK SC", sans-serif' textLength="31.4" lengthAdjust="spacingAndGlyphs" >26±0.3</text>
<line x1="350.20" y1="321.50" x2="382.70" y2="321.50" stroke="#6e6e6e" stroke-width="0.6" stroke-dasharray="9 3 6 3 20"/>
<line x1="350.20" y1="359.50" x2="382.70" y2="359.50" stroke="#6e6e6e" stroke-width="0.6" stroke-dasharray="9 3 6 3 20"/>
<line x1="353.20" y1="321.90" x2="353.20" y2="359.50" stroke="#666" stroke-width="0.9"/>
<polygon points="353.20,321.90 354.55,328.90 351.85,328.90" fill="#666"/>
<polygon points="353.20,359.50 351.85,352.50 354.55,352.50" fill="#666"/>
<text x="351.80" y="347.70" font-size="9.6" fill="#767676" text-anchor="start" font-weight="normal" font-family='"Liberation Sans", "Noto Sans CJK SC", sans-serif' transform="rotate(-90 351.80 347.70)" textLength="13" lengthAdjust="spacingAndGlyphs" >ØB</text>
<line x1="363.40" y1="329.50" x2="382.70" y2="329.50" stroke="#6e6e6e" stroke-width="0.6" />
<line x1="363.40" y1="351.50" x2="382.70" y2="351.50" stroke="#6e6e6e" stroke-width="0.6" />
<line x1="366.50" y1="321.70" x2="366.50" y2="359.70" stroke="#5a5a5a" stroke-width="0.6" />
<polygon points="366.80,329.10 365.45,322.10 368.15,322.10" fill="#2e2e2e"/>
<polygon points="366.80,351.90 368.15,358.90 365.45,358.90" fill="#2e2e2e"/>
<text x="365.80" y="347.70" font-size="9.6" fill="#767676" text-anchor="start" font-weight="normal" font-family='"Liberation Sans", "Noto Sans CJK SC", sans-serif' transform="rotate(-90 365.80 347.70)" textLength="13" lengthAdjust="spacingAndGlyphs" >ØA</text>
<line x1="352.60" y1="375.50" x2="390.80" y2="375.50" stroke="#5a5a5a" stroke-width="0.8" />
<polygon points="381.80,375.10 374.80,376.45 374.80,373.75" fill="#2e2e2e"/>
<polygon points="383.50,375.10 390.50,373.75 390.50,376.45" fill="#2e2e2e"/>
<line x1="381.50" y1="368.70" x2="381.50" y2="380.70" stroke="#6e6e6e" stroke-width="0.6" />
<text x="352.60" y="373.20" font-size="10" fill="#767676" text-anchor="start" font-weight="normal" font-family='"Liberation Sans", "Noto Sans CJK SC", sans-serif' textLength="13.8" lengthAdjust="spacingAndGlyphs" >0.9</text>
<rect x="11.50" y="449.50" width="340.00" height="184.00" fill="none" stroke="#3a3a3a" stroke-width="1" />
<line x1="11.50" y1="473.50" x2="351.50" y2="473.50" stroke="#3a3a3a" stroke-width="1" />
<line x1="11.50" y1="497.50" x2="351.50" y2="497.50" stroke="#3a3a3a" stroke-width="1" />
<line x1="11.50" y1="520.50" x2="351.50" y2="520.50" stroke="#3a3a3a" stroke-width="1" />
<line x1="11.50" y1="542.50" x2="351.50" y2="542.50" stroke="#3a3a3a" stroke-width="1" />
<line x1="11.50" y1="565.50" x2="351.50" y2="565.50" stroke="#3a3a3a" stroke-width="1" />
<line x1="11.50" y1="588.50" x2="351.50" y2="588.50" stroke="#3a3a3a" stroke-width="1" />
<line x1="11.50" y1="610.50" x2="351.50" y2="610.50" stroke="#3a3a3a" stroke-width="1" />
<line x1="108.50" y1="449.50" x2="108.50" y2="610.50" stroke="#3a3a3a" stroke-width="1" />
<line x1="304.50" y1="449.50" x2="304.50" y2="610.50" stroke="#3a3a3a" stroke-width="1" />
<line x1="157.50" y1="473.50" x2="157.50" y2="610.50" stroke="#3a3a3a" stroke-width="1" />
<line x1="205.50" y1="473.50" x2="205.50" y2="610.50" stroke="#3a3a3a" stroke-width="1" />
<line x1="255.50" y1="473.50" x2="255.50" y2="610.50" stroke="#3a3a3a" stroke-width="1" />
<text x="117.00" y="468.30" font-size="10" fill="#444" text-anchor="start" font-weight="normal" font-family='"Liberation Sans", "Noto Sans CJK SC", sans-serif' >Dim.</text>
<text x="311.00" y="469.00" font-size="10" fill="#444" text-anchor="start" font-weight="normal" font-family='"Liberation Sans", "Noto Sans CJK SC", sans-serif' >单位</text>
<text x="20.00" y="489.30" font-size="10" fill="#444" text-anchor="start" font-weight="normal" font-family='"Liberation Sans", "Noto Sans CJK SC", sans-serif' >盲轴 Ø A</text>
<text x="20.00" y="512.80" font-size="10" fill="#444" text-anchor="start" font-weight="normal" font-family='"Liberation Sans", "Noto Sans CJK SC", sans-serif' >匹配连接轴 Ø C</text>
<text x="20.00" y="536.00" font-size="10" fill="#444" text-anchor="start" font-weight="normal" font-family='"Liberation Sans", "Noto Sans CJK SC", sans-serif' >夹紧环 Ø B</text>
<text x="20.00" y="604.00" font-size="10" fill="#444" text-anchor="start" font-weight="normal" font-family='"Liberation Sans", "Noto Sans CJK SC", sans-serif' >轴类型代码</text>
<text x="20.00" y="558.00" font-size="10" fill="#444" text-anchor="start" font-weight="normal" font-family='"Liberation Sans", "Noto Sans CJK SC", sans-serif' >L</text>
<text x="27.50" y="562.50" font-size="7.5" fill="#444" text-anchor="start" font-weight="normal" font-family='"Liberation Sans", "Noto Sans CJK SC", sans-serif' >min</text>
<text x="20.00" y="581.00" font-size="10" fill="#444" text-anchor="start" font-weight="normal" font-family='"Liberation Sans", "Noto Sans CJK SC", sans-serif' >L</text>
<text x="27.50" y="585.50" font-size="7.5" fill="#444" text-anchor="start" font-weight="normal" font-family='"Liberation Sans", "Noto Sans CJK SC", sans-serif' >max</text>
<text x="19.50" y="626.00" font-size="10" fill="#444" text-anchor="start" font-weight="normal" font-family='"Liberation Sans", "Noto Sans CJK SC", sans-serif' textLength="99.5" lengthAdjust="spacingAndGlyphs" >L = 匹配轴的深入长度</text>
<text x="117.00" y="489.30" font-size="10" fill="#444" text-anchor="start" font-weight="normal" font-family='"Liberation Sans", "Noto Sans CJK SC", sans-serif' >10</text>
<text x="130.50" y="483.50" font-size="6.4" fill="#444" text-anchor="start" font-weight="normal" font-family='"Liberation Sans", "Noto Sans CJK SC", sans-serif' >+0.012</text>
<text x="166.00" y="489.30" font-size="10" fill="#444" text-anchor="start" font-weight="normal" font-family='"Liberation Sans", "Noto Sans CJK SC", sans-serif' >12</text>
<text x="179.50" y="483.50" font-size="6.4" fill="#444" text-anchor="start" font-weight="normal" font-family='"Liberation Sans", "Noto Sans CJK SC", sans-serif' >+0.012</text>
<text x="214.00" y="489.30" font-size="10" fill="#444" text-anchor="start" font-weight="normal" font-family='"Liberation Sans", "Noto Sans CJK SC", sans-serif' >9,52</text>
<text x="234.50" y="483.50" font-size="6.4" fill="#444" text-anchor="start" font-weight="normal" font-family='"Liberation Sans", "Noto Sans CJK SC", sans-serif' >+0.012</text>
<text x="262.00" y="489.30" font-size="10" fill="#444" text-anchor="start" font-weight="normal" font-family='"Liberation Sans", "Noto Sans CJK SC", sans-serif' >12,7</text>
<text x="283.00" y="483.50" font-size="6.4" fill="#444" text-anchor="start" font-weight="normal" font-family='"Liberation Sans", "Noto Sans CJK SC", sans-serif' >+0.012</text>
<text x="117.00" y="513.00" font-size="10" fill="#444" text-anchor="start" font-weight="normal" font-family='"Liberation Sans", "Noto Sans CJK SC", sans-serif' >10</text>
<text x="131.00" y="517.50" font-size="7" fill="#444" text-anchor="start" font-weight="normal" font-family='"Liberation Sans", "Noto Sans CJK SC", sans-serif' >g7</text>
<text x="166.00" y="513.00" font-size="10" fill="#444" text-anchor="start" font-weight="normal" font-family='"Liberation Sans", "Noto Sans CJK SC", sans-serif' >12</text>
<text x="180.00" y="517.50" font-size="7" fill="#444" text-anchor="start" font-weight="normal" font-family='"Liberation Sans", "Noto Sans CJK SC", sans-serif' >g7</text>
<text x="214.00" y="513.00" font-size="10" fill="#444" text-anchor="start" font-weight="normal" font-family='"Liberation Sans", "Noto Sans CJK SC", sans-serif' >9,52</text>
<text x="237.00" y="517.50" font-size="7" fill="#444" text-anchor="start" font-weight="normal" font-family='"Liberation Sans", "Noto Sans CJK SC", sans-serif' >g7</text>
<text x="262.00" y="513.00" font-size="10" fill="#444" text-anchor="start" font-weight="normal" font-family='"Liberation Sans", "Noto Sans CJK SC", sans-serif' >12,7</text>
<text x="283.50" y="517.50" font-size="7" fill="#444" text-anchor="start" font-weight="normal" font-family='"Liberation Sans", "Noto Sans CJK SC", sans-serif' >g7</text>
<text x="117.00" y="535.50" font-size="10" fill="#444" text-anchor="start" font-weight="normal" font-family='"Liberation Sans", "Noto Sans CJK SC", sans-serif' >18</text>
<text x="166.00" y="535.50" font-size="10" fill="#444" text-anchor="start" font-weight="normal" font-family='"Liberation Sans", "Noto Sans CJK SC", sans-serif' >20</text>
<text x="214.00" y="535.50" font-size="10" fill="#444" text-anchor="start" font-weight="normal" font-family='"Liberation Sans", "Noto Sans CJK SC", sans-serif' >18</text>
<text x="262.00" y="535.50" font-size="10" fill="#444" text-anchor="start" font-weight="normal" font-family='"Liberation Sans", "Noto Sans CJK SC", sans-serif' >22</text>
<text x="117.00" y="558.00" font-size="10" fill="#444" text-anchor="start" font-weight="normal" font-family='"Liberation Sans", "Noto Sans CJK SC", sans-serif' >15</text>
<text x="166.00" y="558.00" font-size="10" fill="#444" text-anchor="start" font-weight="normal" font-family='"Liberation Sans", "Noto Sans CJK SC", sans-serif' >18</text>
<text x="214.00" y="558.00" font-size="10" fill="#444" text-anchor="start" font-weight="normal" font-family='"Liberation Sans", "Noto Sans CJK SC", sans-serif' >15</text>
<text x="262.00" y="558.00" font-size="10" fill="#444" text-anchor="start" font-weight="normal" font-family='"Liberation Sans", "Noto Sans CJK SC", sans-serif' >18</text>
<text x="117.00" y="580.50" font-size="10" fill="#444" text-anchor="start" font-weight="normal" font-family='"Liberation Sans", "Noto Sans CJK SC", sans-serif' >20</text>
<text x="166.00" y="580.50" font-size="10" fill="#444" text-anchor="start" font-weight="normal" font-family='"Liberation Sans", "Noto Sans CJK SC", sans-serif' >20</text>
<text x="214.00" y="580.50" font-size="10" fill="#444" text-anchor="start" font-weight="normal" font-family='"Liberation Sans", "Noto Sans CJK SC", sans-serif' >20</text>
<text x="262.00" y="580.50" font-size="10" fill="#444" text-anchor="start" font-weight="normal" font-family='"Liberation Sans", "Noto Sans CJK SC", sans-serif' >20</text>
<text x="117.00" y="603.50" font-size="10" fill="#444" text-anchor="start" font-weight="normal" font-family='"Liberation Sans", "Noto Sans CJK SC", sans-serif' textLength="11" lengthAdjust="spacingAndGlyphs" >"2"</text>
<text x="166.00" y="603.50" font-size="10" fill="#444" text-anchor="start" font-weight="normal" font-family='"Liberation Sans", "Noto Sans CJK SC", sans-serif' textLength="11" lengthAdjust="spacingAndGlyphs" >"7"</text>
<text x="214.00" y="603.50" font-size="10" fill="#444" text-anchor="start" font-weight="normal" font-family='"Liberation Sans", "Noto Sans CJK SC", sans-serif' textLength="11" lengthAdjust="spacingAndGlyphs" >"6"</text>
<text x="262.00" y="603.50" font-size="10" fill="#444" text-anchor="start" font-weight="normal" font-family='"Liberation Sans", "Noto Sans CJK SC", sans-serif' textLength="11" lengthAdjust="spacingAndGlyphs" >"E"</text>
<text x="311.00" y="488.80" font-size="10" fill="#444" text-anchor="start" font-weight="normal" font-family='"Liberation Sans", "Noto Sans CJK SC", sans-serif' >mm</text>
<text x="311.00" y="512.50" font-size="10" fill="#444" text-anchor="start" font-weight="normal" font-family='"Liberation Sans", "Noto Sans CJK SC", sans-serif' >mm</text>
<text x="311.00" y="535.30" font-size="10" fill="#444" text-anchor="start" font-weight="normal" font-family='"Liberation Sans", "Noto Sans CJK SC", sans-serif' >mm</text>
<text x="311.00" y="558.00" font-size="10" fill="#444" text-anchor="start" font-weight="normal" font-family='"Liberation Sans", "Noto Sans CJK SC", sans-serif' >mm</text>
<text x="311.00" y="580.50" font-size="10" fill="#444" text-anchor="start" font-weight="normal" font-family='"Liberation Sans", "Noto Sans CJK SC", sans-serif' >mm</text>
<text x="0.50" y="10.40" font-size="10.8" fill="#111" text-anchor="start" font-weight="bold" font-family='"Liberation Sans", "Noto Sans CJK SC", sans-serif' textLength="43" lengthAdjust="spacingAndGlyphs" >盲轴 "F"</text>
<text x="371.00" y="459.60" font-size="11.3" fill="#3c3c3c" text-anchor="start" font-weight="normal" font-family='"Liberation Sans", "Noto Sans CJK SC", sans-serif' textLength="70.5" lengthAdjust="spacingAndGlyphs" >&lt;1&gt; 客户端面</text>
<text x="599.00" y="626.30" font-size="11" fill="#222" text-anchor="start" font-weight="normal" font-family='"Liberation Sans", "Noto Sans CJK SC", sans-serif' >尺寸单位：</text>
<text x="656.00" y="626.30" font-size="11.5" fill="#222" text-anchor="start" font-weight="normal" font-family='"Liberation Sans", "Noto Sans CJK SC", sans-serif' >mm</text>
<path d="M433.06,551.70 A30.6,30.6 0 0 1 453.74,586.11" fill="none" stroke="#74b4e0" stroke-width="1.35" />
<path d="M445.61,602.06 A30.6,30.6 0 0 1 400.86,601.28" fill="none" stroke="#74b4e0" stroke-width="1.35" />
<path d="M393.67,587.16 A30.6,30.6 0 0 1 413.13,552.05" fill="none" stroke="#74b4e0" stroke-width="1.35" />
<rect x="404.3" y="577.5999999999999" width="38.6" height="7" fill="#efe2d0"/>
<polygon points="415.6,579.3 425.1,585.0 432.6,580.1999999999999 432.6,588.4 422.6,588.4 415.6,584.3" fill="#e6d4bb"/>
<circle cx="423.60" cy="580.80" r="20.00" fill="none" stroke="#74b4e0" stroke-width="1.25" />
<rect x="413.60" y="572.20" width="20.00" height="17.20" fill="none" stroke="#74b4e0" stroke-width="1.2" />
<line x1="413.60" y1="572.20" x2="419.30" y2="561.30" stroke="#74b4e0" stroke-width="1.15" />
<line x1="433.60" y1="572.20" x2="427.90" y2="561.30" stroke="#74b4e0" stroke-width="1.15" />
<line x1="413.60" y1="589.40" x2="419.30" y2="600.30" stroke="#74b4e0" stroke-width="1.15" />
<line x1="433.60" y1="589.40" x2="427.90" y2="600.30" stroke="#74b4e0" stroke-width="1.15" />
<line x1="413.60" y1="572.20" x2="406.60" y2="570.30" stroke="#74b4e0" stroke-width="1.15" />
<line x1="433.60" y1="572.20" x2="440.60" y2="570.30" stroke="#74b4e0" stroke-width="1.15" />
<line x1="413.60" y1="589.40" x2="406.60" y2="591.30" stroke="#74b4e0" stroke-width="1.15" />
<line x1="433.60" y1="589.40" x2="440.60" y2="591.30" stroke="#74b4e0" stroke-width="1.15" />
<line x1="419.30" y1="561.50" x2="427.90" y2="561.50" stroke="#74b4e0" stroke-width="1.0" />
<line x1="419.30" y1="600.50" x2="427.90" y2="600.50" stroke="#74b4e0" stroke-width="1.0" />
<text x="422.30" y="557.50" font-size="16.5" fill="#7db586" text-anchor="middle" font-weight="bold" font-family='"Liberation Serif", "Noto Serif CJK SC", serif' textLength="10.5" lengthAdjust="spacingAndGlyphs" >德</text>
<text x="397.00" y="599.00" font-size="13" fill="#7db586" text-anchor="middle" font-weight="bold" font-family='"Liberation Serif", "Noto Serif CJK SC", serif' transform="rotate(-28 397.00 599.00)" >伍</text>
<text x="451.00" y="600.00" font-size="13" fill="#7db586" text-anchor="middle" font-weight="bold" font-family='"Liberation Serif", "Noto Serif CJK SC", serif' transform="rotate(28 451.00 600.00)" >拓</text>
<text x="467.50" y="567.00" font-size="19.4" fill="#7cb189" text-anchor="start" font-weight="500" font-family='"Liberation Sans", "Noto Sans CJK SC", sans-serif' textLength="98.8" lengthAdjust="spacingAndGlyphs" >西安德伍拓</text>
<text x="467.30" y="590.50" font-size="19.6" fill="#68a5da" text-anchor="start" font-weight="normal" font-family='"Liberation Sans", "Noto Sans CJK SC", sans-serif' textLength="139.5" lengthAdjust="spacing" >186-2947-6872</text>
<text x="467.30" y="608.60" font-size="15.8" fill="#888" text-anchor="start" font-weight="normal" font-family='"Liberation Sans", "Noto Sans CJK SC", sans-serif' textLength="217.5" lengthAdjust="spacing" >www.motion-control.com.cn</text>
</svg>
</body></html>
